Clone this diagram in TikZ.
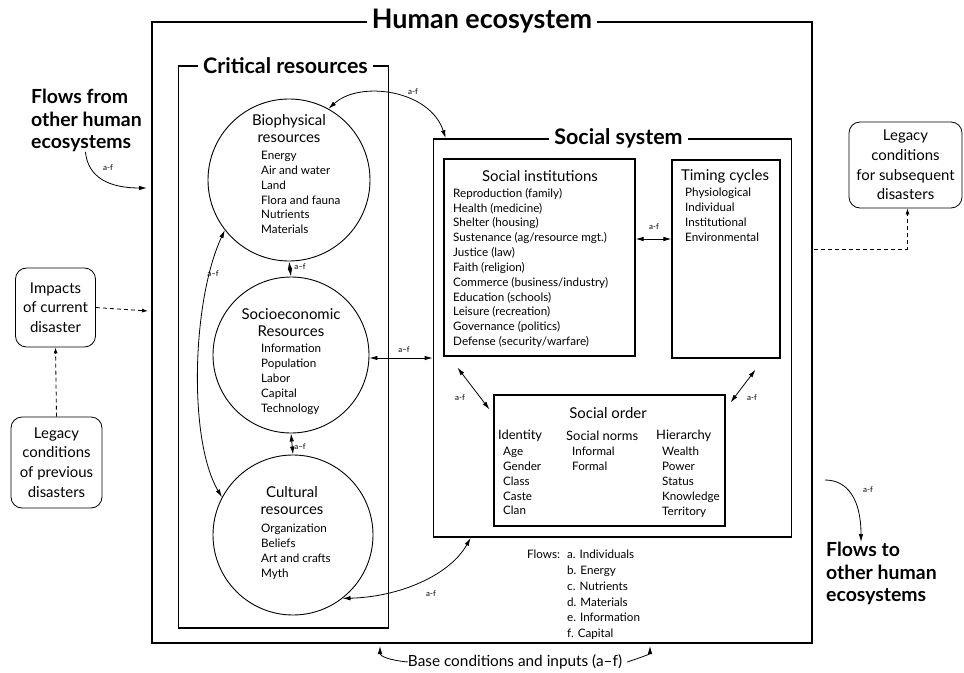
\documentclass[tikz,border=0pt]{standalone}
\usepackage{fontspec}
\setmainfont{Lato}
\usetikzlibrary{arrows.meta,positioning}

\begin{document}
\begin{tikzpicture}[x=1bp,y=-1bp]

\tikzset{
  resource/.style = {draw, circle, line width=0.9bp, inner sep=0pt},
  panel/.style = {draw, rectangle, inner sep=0pt},
  heading/.style = {fill=white, inner xsep=5bp, inner ysep=0pt,
                    font=\bfseries\fontsize{21.5}{24}\selectfont},
  listing/.style = {anchor=north west, inner sep=0pt, align=left,
                    font=\fontsize{11.7}{14.9}\selectfont},
  caption/.style = {inner sep=0pt, align=center,
                    font=\fontsize{15}{17}\selectfont},
  legacy/.style = {draw, rounded corners=11bp, line width=0.8bp, align=center,
                   inner sep=0pt, font=\fontsize{15}{19.8}\selectfont},
  flowlabel/.style = {inner sep=0pt, font=\fontsize{8}{9}\selectfont},
  flow/.style = {line width=0.8bp, -{Latex[length=8bp,width=4.5bp]}},
  twoway/.style = {line width=0.8bp,
                   {Latex[length=8bp,width=4.5bp]}-{Latex[length=8bp,width=4.5bp]}},
  dashline/.style = {line width=0.8bp, dash pattern=on 4bp off 3bp},
  outside/.style = {inner sep=0pt, anchor=north west, align=left,
                    font=\bfseries\fontsize{19.5}{22.5}\selectfont}
}

\useasboundingbox (0,0) rectangle (964,673);

% frames
\node[panel, line width=2.4bp, minimum width=660bp, minimum height=621bp] (eco) at (482,332.5) {};
\node[panel, line width=1.7bp, minimum width=210bp, minimum height=562bp] (crit) at (283.5,347) {};
\node[panel, line width=1.7bp, minimum width=358bp, minimum height=398bp] (sys) at (612.5,338) {};
\node[panel, line width=1.1bp, minimum width=191bp, minimum height=197bp] (inst) at (539.5,257.5) {};
\node[panel, line width=1.1bp, minimum width=108bp, minimum height=198bp] (timing) at (726,259) {};
\node[panel, line width=1.1bp, minimum width=231bp, minimum height=131bp] (order) at (609.5,460.5) {};

\node[heading, font=\bfseries\fontsize{27}{30}\selectfont] (ecotitle) at (eco.north) {Human ecosystem};
\node[heading] (crittitle) at ([xshift=2bp]crit.north) {Critical resources};
\node[heading] (systitle) at ([xshift=6bp]sys.north) {Social system};

% critical resources
\node[resource, minimum size=162bp] (bio) at (289,180) {};
\node[resource, minimum size=156bp] (socio) at (291,355) {};
\node[resource, minimum size=160bp] (cult) at (293,535) {};

\node[caption] (biotitle) at (289,128.5) {Biophysical\\resources};
\node[listing] (biolist) at (261,151) {Energy\\Air and water\\Land\\Flora and fauna\\Nutrients\\Materials};
\node[caption] (sociotitle) at (291,322.5) {Socioeconomic\\Resources};
\node[listing] (sociolist) at (261,344) {Information\\Population\\Labor\\Capital\\Technology};
\node[caption] (culttitle) at (292,500.5) {Cultural\\resources};
\node[listing] (cultlist) at (261,524) {Organization\\Beliefs\\Art and crafts\\Myth};

% social system
\node[caption] (insttitle) at (540,176) {Social institutions};
\node[listing] (instlist) at (453,188) {Reproduction (family)\\Health (medicine)\\Shelter (housing)\\
  Sustenance (ag/resource mgt.)\\Justice (law)\\Faith (religion)\\Commerce (business/industry)\\
  Education (schools)\\Leisure (recreation)\\Governance (politics)\\Defense (security/warfare)};
\node[caption] (timingtitle) at (725,176) {Timing cycles};
\node[listing] (timinglist) at (685,188) {Physiological\\Individual\\Institutional\\Environmental};

\node[caption] (ordertitle) at (608,413) {Social order};
\node[caption, anchor=west, font=\fontsize{13}{15}\selectfont] (identity) at (498,436) {Identity};
\node[listing] (identitylist) at (503,447) {Age\\Gender\\Class\\Caste\\Clan};
\node[caption, anchor=west, font=\fontsize{13}{15}\selectfont] (norms) at (566,436) {Social norms};
\node[listing] (normslist) at (572,447) {Informal\\Formal};
\node[caption, anchor=west, font=\fontsize{13}{15}\selectfont] (hierarchy) at (656,436) {Hierarchy};
\node[listing] (hierarchylist) at (662,447) {Wealth\\Power\\Status\\Knowledge\\Territory};

\node[listing] (flowsword) at (527,550) {Flows:};
\node[listing, font=\fontsize{11.7}{15.8}\selectfont] (flowslist) at (567,550)
  {a. Individuals\\b. Energy\\c. Nutrients\\d. Materials\\e. Information\\f. Capital};

% outside the ecosystem
\node[outside] (fromtxt) at (31,89) {Flows from\\other human\\ecosystems};
\node[outside] (totxt) at (826,542) {Flows to\\other human\\ecosystems};
\node[legacy, minimum width=80bp, minimum height=79bp] (impacts) at (55.5,307.5) {Impacts\\of current\\disaster};
\node[legacy, minimum width=91bp, minimum height=91bp] (legprev) at (56.5,462.5) {Legacy\\conditions\\of previous\\disasters};
\node[legacy, minimum width=113bp, minimum height=86bp] (legsub) at (905.5,165) {Legacy\\conditions\\for subsequent\\disasters};
\node[inner sep=0pt, font=\fontsize{15.4}{17}\selectfont] (base) at (515,662) {Base conditions and inputs (a--f)};

% free ends
\coordinate (fromend) at (147,188);
\coordinate (toend) at (825,480);
\coordinate (impactend) at (148,311);
\coordinate (legout) at (814,249);
\coordinate (baseleft) at (380,646);
\coordinate (baseright) at (650,646);

% flows inside
\draw[twoway] (bio.south) -- (socio.north);
\draw[twoway] (socio.south) -- (cult.north);
\draw[twoway] (bio.218) .. controls (192,300) and (188,440) .. (cult.152);
\draw[twoway] (bio.61) .. controls (360,80) and (430,90) .. ([xshift=13bp]sys.north west);
\draw[twoway] (socio.east |- 0,358) -- (sys.west |- 0,358);
\draw[twoway] (cult.-52) .. controls (400,597) and (450,575) .. ([xshift=38bp]sys.south west);
\draw[twoway] (inst.east |- 0,239) -- (timing.west |- 0,239);
\draw[twoway] ([shift={(14bp,-11bp)}]inst.south west) -- ([shift={(-4bp,-15bp)}]order.north west);
\draw[twoway] ([shift={(-25bp,-11bp)}]timing.south east) -- ([shift={(5bp,-8bp)}]order.north east);

\node[flowlabel] (l1) at (300,267) {a--f};
\node[flowlabel] (l2) at (300,447) {a--f};
\node[flowlabel] (l3) at (213,274) {a--f};
\node[flowlabel] (l4) at (413,92) {a-f};
\node[flowlabel] (l5) at (404,350) {a--f};
\node[flowlabel] (l6) at (431,594) {a-f};
\node[flowlabel] (l7) at (654,227) {a-f};
\node[flowlabel] (l8) at (460,398) {a-f};
\node[flowlabel] (l9) at (752,398) {a-f};

% flows across the border
\draw[flow] ([xshift=-1bp]fromtxt.south) .. controls (88,178) and (110,188) .. (fromend);
\node[flowlabel] (l10) at (108,168) {a-f};
\draw[flow] (toend) .. controls (848,480) and (861,500) .. ([xshift=35bp]totxt.north west);
\node[flowlabel] (l11) at (868,490) {a-f};
\draw[flow] (base.west) .. controls (388,660) and (380,656) .. (baseleft);
\draw[flow] ([xshift=5bp]base.east) .. controls (645,656) and (650,654) .. (baseright);

% disasters
\draw[dashline, -{Latex[length=6bp,width=4bp]}] (impacts.east) -- (impactend);
\draw[dashline, -{Latex[length=6bp,width=4bp]}] (legprev.north) -- (impacts.south);
\draw[dashline, -{Latex[length=6bp,width=4bp]}] (legout) -| ([xshift=2bp]legsub.south);

\end{tikzpicture}
\end{document}
